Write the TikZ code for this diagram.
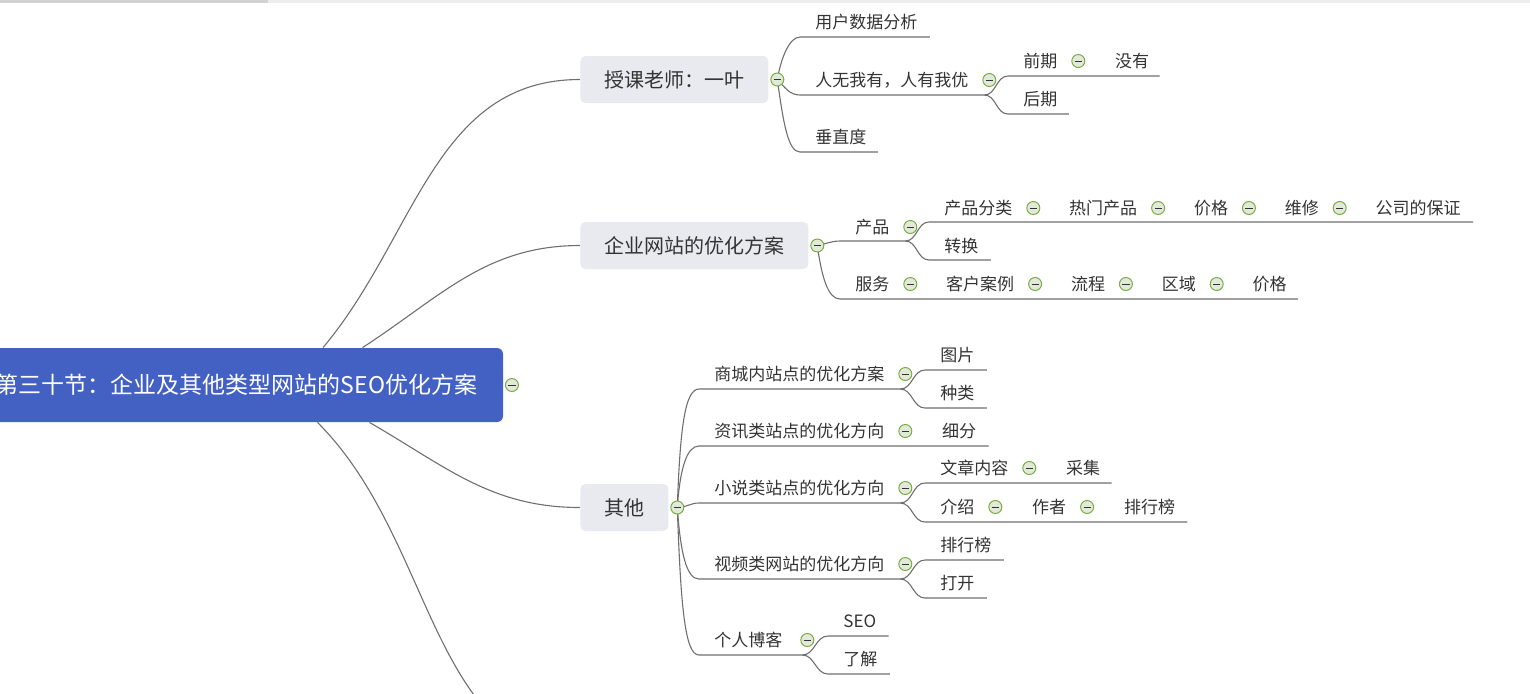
\documentclass[tikz,border=0pt]{standalone}
\usepackage{fontspec}
\setmainfont{Noto Sans CJK SC}
\usetikzlibrary{positioning, calc, backgrounds}

\definecolor{rootblue}{HTML}{4361C3}
\definecolor{topicgray}{HTML}{E9EAF0}
\definecolor{inkgray}{HTML}{333333}
\definecolor{linkgray}{HTML}{6F6F6F}
\definecolor{foldgreen}{HTML}{78AD45}
\definecolor{foldfill}{HTML}{E2E9D8}
\definecolor{barDark}{HTML}{D2D2D2}
\definecolor{barLight}{HTML}{EDEDED}

\tikzset{
  root/.style={fill=rootblue, rounded corners=3pt, text=white,
    font=\fontsize{11.5pt}{14pt}\selectfont,
    minimum width=266.5pt, minimum height=37pt, inner sep=0pt},
  topic/.style={fill=topicgray, rounded corners=2.5pt, text=inkgray,
    font=\fontsize{10pt}{12pt}\selectfont,
    minimum height=23.5pt, inner xsep=12pt, inner ysep=0pt, anchor=west},
  leaf/.style={text=inkgray, font=\fontsize{8.5pt}{10pt}\selectfont,
    inner sep=0pt, anchor=west},
  fold/.style={circle, draw=foldgreen, fill=foldfill, line width=0.5pt,
    minimum size=6.5pt, inner sep=0pt,
    path picture={\draw[inkgray, line width=0.45pt]
      ([xshift=-1.8pt]path picture bounding box.center) --
      ([xshift=1.8pt]path picture bounding box.center);}},
  link/.style={draw=linkgray, line width=0.55pt},
}

\begin{document}
\begin{tikzpicture}[x=0.5pt, y=-0.5pt]

    \useasboundingbox (0,0) rectangle (1530,693);

    % --- WINDOW SCROLL BAR ---
    \fill[barDark] (0,0) rectangle (268,3);
    \fill[barLight] (268,0) rectangle (1530,3);

    % --- CENTRAL TOPIC ---
    \node[root] (root) at (236.5,385) {第三十节：企业及其他类型网站的SEO优化方案};
    \node[fold, right=0.75pt of root] (rootF) {};

    % --- MAIN TOPICS ---
    \node[topic] (teacher) at (580,79.5) {授课老师：一叶};
    \node[fold, right=0.75pt of teacher] (teacherF) {};
    \node[topic] (company) at (580,245.5) {企业网站的优化方案};
    \node[fold, right=0.75pt of company] (companyF) {};
    \node[topic] (other) at (580,507.5) {其他};
    \node[fold, right=0.75pt of other] (otherF) {};
    % topic below the window
    \coordinate (lowerTopic) at (600,760);

    % --- TEACHER SUBTOPICS ---
    \node[leaf] (userData) at (815,22) {用户数据分析};
    \node[leaf] (uniq) at (815,80) {人无我有，人有我优};
    \node[fold, right=6.75pt of uniq] (uniqF) {};
    \node[leaf] (early) at (1023,61) {前期};
    \node[fold, right=6.75pt of early] (earlyF) {};
    \node[leaf, right=14.75pt of earlyF] (none) {没有};
    \node[leaf] (late) at (1023,99) {后期};
    \node[leaf] (vertical) at (815,137) {垂直度};

    % --- COMPANY SUBTOPICS ---
    \node[leaf] (product) at (855,227) {产品};
    \node[fold, right=6.75pt of product] (productF) {};
    \node[leaf] (category) at (944,208) {产品分类};
    \node[fold, right=6.75pt of category] (categoryF) {};
    \node[leaf, right=14.25pt of categoryF] (hot) {热门产品};
    \node[fold, right=6.75pt of hot] (hotF) {};
    \node[leaf, right=14.25pt of hotF] (price) {价格};
    \node[fold, right=6.75pt of price] (priceF) {};
    \node[leaf, right=14.25pt of priceF] (repair) {维修};
    \node[fold, right=6.75pt of repair] (repairF) {};
    \node[leaf, right=14.25pt of repairF] (guarantee) {公司的保证};
    \node[leaf] (convert) at (944,246) {转换};
    \node[leaf] (service) at (855,284) {服务};
    \node[fold, right=6.75pt of service] (serviceF) {};
    \node[leaf, right=14.25pt of serviceF] (cases) {客户案例};
    \node[fold, right=6.75pt of cases] (casesF) {};
    \node[leaf, right=14.25pt of casesF] (flow) {流程};
    \node[fold, right=6.75pt of flow] (flowF) {};
    \node[leaf, right=14.25pt of flowF] (region) {区域};
    \node[fold, right=6.75pt of region] (regionF) {};
    \node[leaf, right=14.25pt of regionF] (servicePrice) {价格};

    % --- OTHER SUBTOPICS ---
    \node[leaf] (mall) at (714,374) {商城内站点的优化方案};
    \node[fold, right=6.75pt of mall] (mallF) {};
    \node[leaf] (image) at (940,355) {图片};
    \node[leaf] (kind) at (940,393) {种类};
    \node[leaf] (news) at (714,431) {资讯类站点的优化方向};
    \node[fold, right=6.75pt of news] (newsF) {};
    \node[leaf, right=14.75pt of newsF] (subdiv) {细分};
    \node[leaf] (novel) at (714,488) {小说类站点的优化方向};
    \node[fold, right=6.75pt of novel] (novelF) {};
    \node[leaf] (article) at (940,468) {文章内容};
    \node[fold, right=6.75pt of article] (articleF) {};
    \node[leaf, right=14.75pt of articleF] (collect) {采集};
    \node[leaf] (intro) at (940,507) {介绍};
    \node[fold, right=6.75pt of intro] (introF) {};
    \node[leaf, right=14.75pt of introF] (author) {作者};
    \node[fold, right=6.75pt of author] (authorF) {};
    \node[leaf, right=14.75pt of authorF] (ranking) {排行榜};
    \node[leaf] (video) at (714,564) {视频类网站的优化方向};
    \node[fold, right=6.75pt of video] (videoF) {};
    \node[leaf] (videoRank) at (940,545) {排行榜};
    \node[leaf] (open) at (940,583) {打开};
    \node[leaf] (blog) at (714,640) {个人博客};
    \node[fold, right=8.75pt of blog] (blogF) {};
    \node[leaf] (seo) at (843,621) {SEO};
    \node[leaf] (know) at (843,659) {了解};

    % --- UNDERLINE END POINTS ---
    \coordinate (rootA) at ($(root.north)+(86.5,0)$);
    \coordinate (rootB) at ($(root.north)+(126,0)$);
    \coordinate (rootC) at ($(root.south)+(133,0)$);
    \coordinate (rootD) at ($(root.south)+(81,0)$);

    \coordinate (userDataL) at ($(userData.west)+(-15,15)$);
    \coordinate (userDataR) at ($(userData.east)+(12,15)$);
    \coordinate (uniqL) at ($(uniq.west)+(-15,15)$);
    \coordinate (uniqR) at ($(uniqF.center)+(-5,15)$);
    \coordinate (earlyL) at ($(early.west)+(-15,15)$);
    \coordinate (noneR) at ($(none.east)+(10,15)$);
    \coordinate (lateL) at ($(late.west)+(-15,15)$);
    \coordinate (lateR) at ($(late.east)+(11,15)$);
    \coordinate (verticalL) at ($(vertical.west)+(-15,15)$);
    \coordinate (verticalR) at ($(vertical.east)+(11,15)$);

    \coordinate (productL) at ($(product.west)+(-15,14)$);
    \coordinate (productR) at ($(productF.center)+(-5,14)$);
    \coordinate (categoryL) at ($(category.west)+(-15,14)$);
    \coordinate (guaranteeR) at ($(guarantee.east)+(12,14)$);
    \coordinate (convertL) at ($(convert.west)+(-15,14)$);
    \coordinate (convertR) at ($(convert.east)+(12,14)$);
    \coordinate (serviceL) at ($(service.west)+(-15,15)$);
    \coordinate (servicePriceR) at ($(servicePrice.east)+(11,15)$);

    \coordinate (mallL) at ($(mall.west)+(-15,15)$);
    \coordinate (mallR) at ($(mallF.center)+(-5,15)$);
    \coordinate (imageL) at ($(image.west)+(-15,15)$);
    \coordinate (imageR) at ($(image.east)+(12,15)$);
    \coordinate (kindL) at ($(kind.west)+(-15,15)$);
    \coordinate (kindR) at ($(kind.east)+(12,15)$);
    \coordinate (newsL) at ($(news.west)+(-15,15)$);
    \coordinate (subdivR) at ($(subdiv.east)+(12,15)$);
    \coordinate (novelL) at ($(novel.west)+(-15,15)$);
    \coordinate (novelR) at ($(novelF.center)+(-5,15)$);
    \coordinate (articleL) at ($(article.west)+(-15,15)$);
    \coordinate (collectR) at ($(collect.east)+(11,15)$);
    \coordinate (introL) at ($(intro.west)+(-15,15)$);
    \coordinate (rankingR) at ($(ranking.east)+(12,15)$);
    \coordinate (videoL) at ($(video.west)+(-15,15)$);
    \coordinate (videoR) at ($(videoF.center)+(-5,15)$);
    \coordinate (videoRankL) at ($(videoRank.west)+(-15,15)$);
    \coordinate (videoRankR) at ($(videoRank.east)+(12,15)$);
    \coordinate (openL) at ($(open.west)+(-15,15)$);
    \coordinate (openR) at ($(open.east)+(12,15)$);
    \coordinate (blogL) at ($(blog.west)+(-15,15)$);
    \coordinate (blogR) at ($(blogF.center)+(-5,15)$);
    \coordinate (seoL) at ($(seo.west)+(-15,15)$);
    \coordinate (seoR) at ($(seo.east)+(12,15)$);
    \coordinate (knowL) at ($(know.west)+(-15,15)$);
    \coordinate (knowR) at ($(know.east)+(12,15)$);

    \begin{scope}[on background layer]
    % --- ROOT CONNECTORS ---
    \draw[link] (rootA) to[out=50, in=180] (teacher.west);
    \draw[link] (rootB) to[out=33, in=180] (company.west);
    \draw[link] (rootC) to[out=-30, in=180] (other.west);
    \draw[link] (rootD) to[out=-45, in=180] (lowerTopic);

    % --- TEACHER BRANCH ---
    \draw[link] (teacherF.center) to[out=80, in=180, out distance=12pt, in distance=5pt] (userDataL) -- (userDataR);
    \draw[link] (teacherF.center) to[out=-45, in=180] (uniqL) -- (uniqR);
    \draw[link] (teacherF.center) to[out=-82, in=180, out distance=22pt, in distance=6pt] (verticalL) -- (verticalR);
    \draw[link] (uniqR) to[out=0, in=180] (earlyL) -- (noneR);
    \draw[link] (uniqR) to[out=0, in=180] (lateL) -- (lateR);

    % --- COMPANY BRANCH ---
    \draw[link] (companyF.center) to[out=10, in=180] (productL) -- (productR);
    \draw[link] (companyF.center) to[out=-82, in=180, out distance=16pt, in distance=6pt] (serviceL) -- (servicePriceR);
    \draw[link] (productR) to[out=0, in=180] (categoryL) -- (guaranteeR);
    \draw[link] (productR) to[out=0, in=180] (convertL) -- (convertR);

    % --- OTHER BRANCH ---
    \draw[link] (otherF.center) to[out=88, in=180, out distance=40pt, in distance=7pt] (mallL) -- (mallR);
    \draw[link] (otherF.center) to[out=86, in=180, out distance=20pt, in distance=6pt] (newsL) -- (subdivR);
    \draw[link] (otherF.center) to[out=0, in=180] (novelL) -- (novelR);
    \draw[link] (otherF.center) to[out=-86, in=180, out distance=24pt, in distance=6pt] (videoL) -- (videoR);
    \draw[link] (otherF.center) to[out=-88, in=180, out distance=50pt, in distance=7pt] (blogL) -- (blogR);
    \draw[link] (mallR) to[out=0, in=180] (imageL) -- (imageR);
    \draw[link] (mallR) to[out=0, in=180] (kindL) -- (kindR);
    \draw[link] (novelR) to[out=0, in=180] (articleL) -- (collectR);
    \draw[link] (novelR) to[out=0, in=180] (introL) -- (rankingR);
    \draw[link] (videoR) to[out=0, in=180] (videoRankL) -- (videoRankR);
    \draw[link] (videoR) to[out=0, in=180] (openL) -- (openR);
    \draw[link] (blogR) to[out=0, in=180] (seoL) -- (seoR);
    \draw[link] (blogR) to[out=0, in=180] (knowL) -- (knowR);
    \end{scope}

\end{tikzpicture}
\end{document}
